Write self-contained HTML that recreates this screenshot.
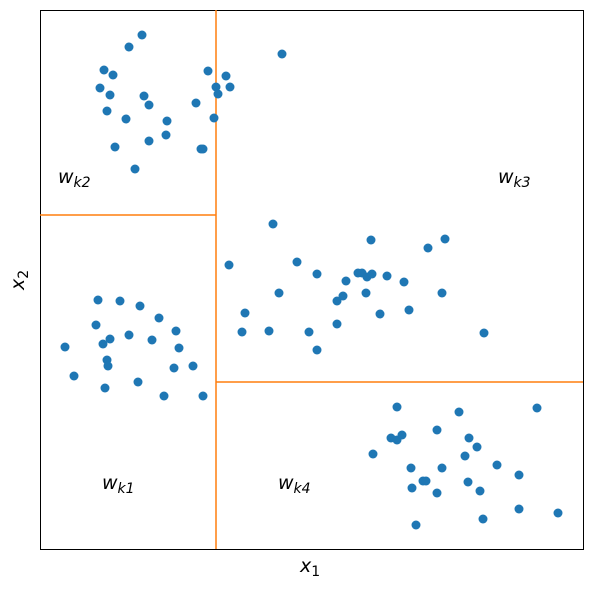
<!DOCTYPE html>
<html><head><meta charset="utf-8"><style>
body{margin:0;background:#fff}
svg{display:block}
text{font-family:"DejaVu Sans","Liberation Sans",sans-serif}
</style></head><body>
<svg id="c" width="592" height="589">
<rect x="40.5" y="10.5" width="543" height="539" fill="none" stroke="#000" stroke-width="1"/>
<g id="lines"></g>
<g id="pts"></g>
<g font-size="19" font-style="italic">
<text x="58" y="183">w<tspan font-size="14" dy="4">k2</tspan></text>
<text x="498" y="183">w<tspan font-size="14" dy="4">k3</tspan></text>
<text x="102" y="489">w<tspan font-size="14" dy="4">k1</tspan></text>
<text x="278" y="489">w<tspan font-size="14" dy="4">k4</tspan></text>
</g>
<text x="300" y="572" font-size="19" font-style="italic">x<tspan font-size="14" dy="4" font-style="normal">1</tspan></text>
<text transform="translate(24,290) rotate(-90)" font-size="19" font-style="italic">x<tspan font-size="14" dy="4" font-style="normal">2</tspan></text>
</svg>
<script>
const xs=[102,89,64,73,60,70,104,109,67,86,127,126,109,75,95,168,186,176,190,178,156,174,161,163,242,
233,189,257,277,239,205,202,229,269,277,297,297,303,306,318,322,327,332,331,347,364,326,340,369,388,405,402,444,
58,80,100,56,119,136,70,63,89,112,139,25,67,68,34,134,153,98,65,124,163,
357,419,497,397,351,357,362,429,437,425,333,371,402,457,479,383,386,428,372,397,440,479,443,518,376];
const ys=[515,503,480,475,462,455,454,445,439,431,429,415,409,403,381,479,474,463,463,456,447,432,401,401,496,
326,285,288,276,257,237,218,219,218,200,226,249,254,269,277,277,273,276,310,274,268,257,236,240,302,311,257,217,
250,249,244,225,232,219,211,206,215,210,202,203,190,184,174,182,184,168,162,154,154,
143,138,142,120,112,110,115,112,103,94,96,82,82,85,75,69,69,68,62,57,59,41,31,37,25];
const xDom=[0,543],yDom=[0,539];
const X=v=>40+(v-xDom[0])/(xDom[1]-xDom[0])*543;
const Y=v=>550-(v-yDom[0])/(yDom[1]-yDom[0])*539;
const NS="http://www.w3.org/2000/svg";
const g=document.getElementById('pts');
for(let i=0;i<xs.length;i++){
 const c=document.createElementNS(NS,'circle');
 c.setAttribute('cx',X(xs[i]));c.setAttribute('cy',Y(ys[i]));c.setAttribute('r',4.5);c.setAttribute('fill','#1f77b4');
 
 
 g.appendChild(c);
}
const splitX=176, splitYL=335, splitYR=168;
const L=document.getElementById('lines');
function ln(x1,y1,x2,y2,n){const l=document.createElementNS(NS,'line');
 l.setAttribute('x1',x1);l.setAttribute('y1',y1);l.setAttribute('x2',x2);l.setAttribute('y2',y2);
 l.setAttribute('stroke','#ff7f0e');l.setAttribute('stroke-width',1.5);
 
 
 L.appendChild(l);}
ln(X(splitX),Y(yDom[0])-1,X(splitX),Y(yDom[1])-1,'vertical-split');
ln(X(xDom[0]),Y(splitYL),X(splitX),Y(splitYL),'left-split');
ln(X(splitX),Y(splitYR),X(xDom[1]),Y(splitYR),'right-split');
</script>
</body></html>
